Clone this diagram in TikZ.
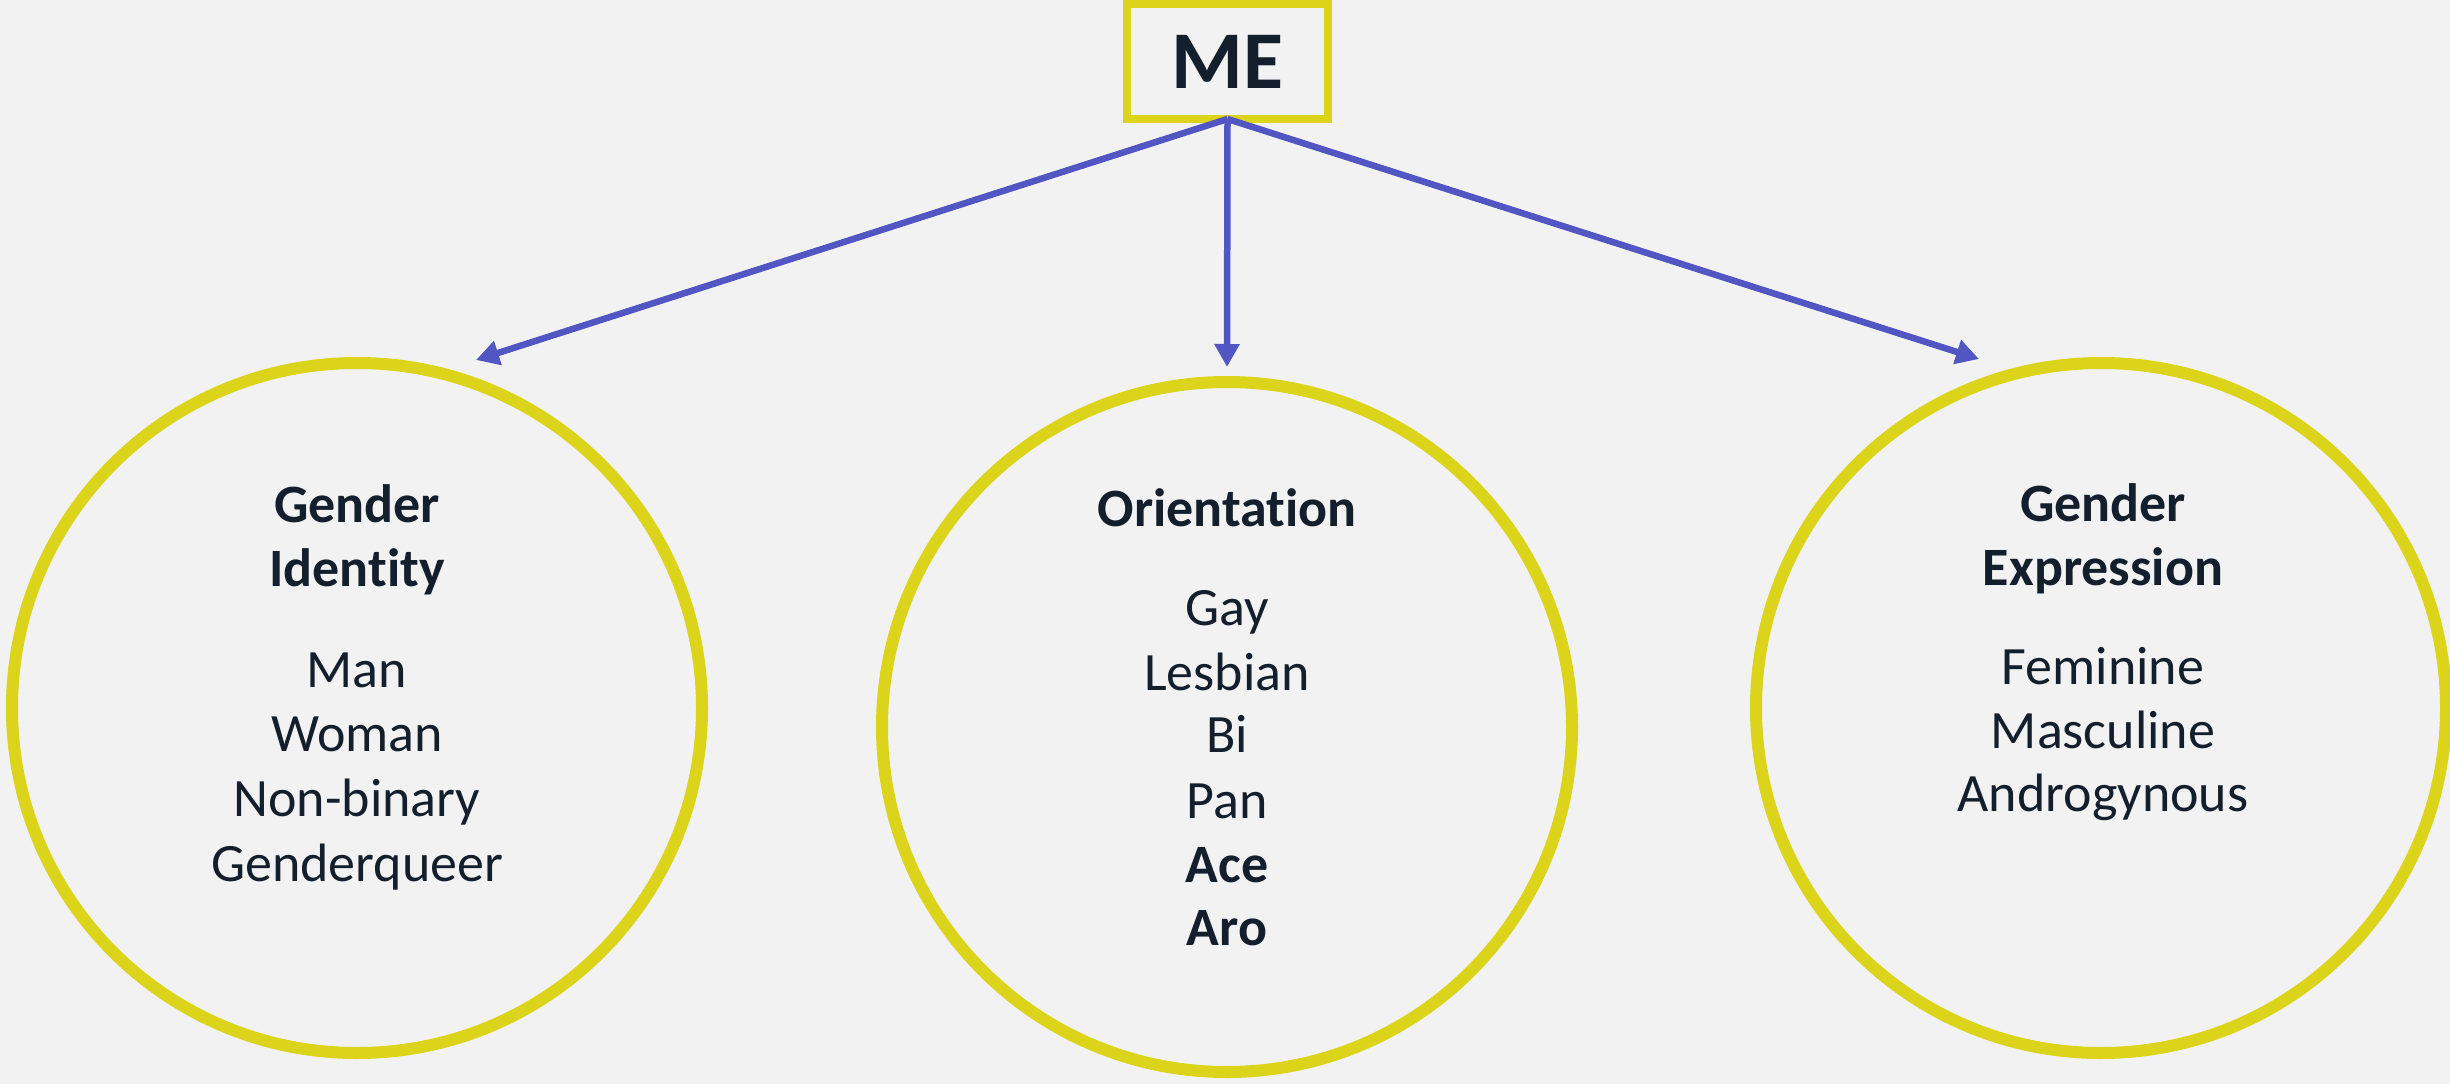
\documentclass[tikz,border=0pt]{standalone}
\usepackage{fontspec}
\setmainfont{Carlito}[RawFeature={-liga;-clig;-dlig;-calt}]
\usetikzlibrary{arrows.meta}
\definecolor{bgc}{HTML}{F2F2F2}
\definecolor{ylw}{HTML}{DCD41A}
\definecolor{blu}{HTML}{5156C3}
\definecolor{ink}{HTML}{131F2C}
\tikzset{
  ring/.style={circle, draw=ylw, line width=12pt, minimum size=690pt, inner sep=0pt, outer sep=0pt},
  mebox/.style={rectangle, draw=ylw, line width=8pt, minimum width=201pt, minimum height=115pt, inner sep=0pt, outer sep=0pt, text=ink, font=\bfseries\fontsize{82}{90}\selectfont},
  txt/.style={anchor=base, inner sep=0pt, text=ink, font=\fontsize{54}{64}\selectfont},
  hdr/.style={txt, font=\bfseries\fontsize{54}{64}\selectfont},
  link/.style={draw=blu, line width=6.5pt, -{Triangle[length=23pt,width=24pt]}}
}
\begin{document}
\begin{tikzpicture}[x=1pt,y=-1pt]
\fill[bgc] (0,0) rectangle (2450,1084);
\useasboundingbox (0,0) rectangle (2450,1084);

\node[mebox] (me) at (1227.5,61.5) {ME};

\node[ring] (gi) at (357,708) {};
\node[ring] (or) at (1227,727) {};
\node[ring] (ge) at (2101,708) {};

\coordinate (tipL) at (476,360);
\coordinate (tipM) at (1227,367);
\coordinate (tipR) at (1979,359);

\draw[link] (me.south) -- (tipL);
\draw[link] (me.south) -- (tipM);
\draw[link] (me.south) -- (tipR);

% Gender Identity
\node[hdr] (gi1) at (357,522) {Gender};
\node[hdr] (gi2) at (357,586) {Identity};
\node[txt] (gi3) at (357,687) {Man};
\node[txt] (gi4) at (357,751) {Woman};
\node[txt] (gi5) at (357,816) {Non-binary};
\node[txt] (gi6) at (357,881) {Genderqueer};

% Orientation
\node[hdr] (or1) at (1227,526) {Orientation};
\node[txt] (or2) at (1227,625) {Gay};
\node[txt] (or3) at (1227,690) {Lesbian};
\node[txt] (or4) at (1227,752) {Bi};
\node[txt] (or5) at (1227,818) {Pan};
\node[hdr] (or6) at (1227,882) {Ace};
\node[hdr] (or7) at (1227,945) {Aro};

% Gender Expression
\node[hdr] (ge1) at (2103,521) {Gender};
\node[hdr] (ge2) at (2103,585) {Expression};
\node[txt] (ge3) at (2103,684) {Feminine};
\node[txt] (ge4) at (2103,748) {Masculine};
\node[txt] (ge5) at (2103,811) {Androgynous};
\end{tikzpicture}
\end{document}
